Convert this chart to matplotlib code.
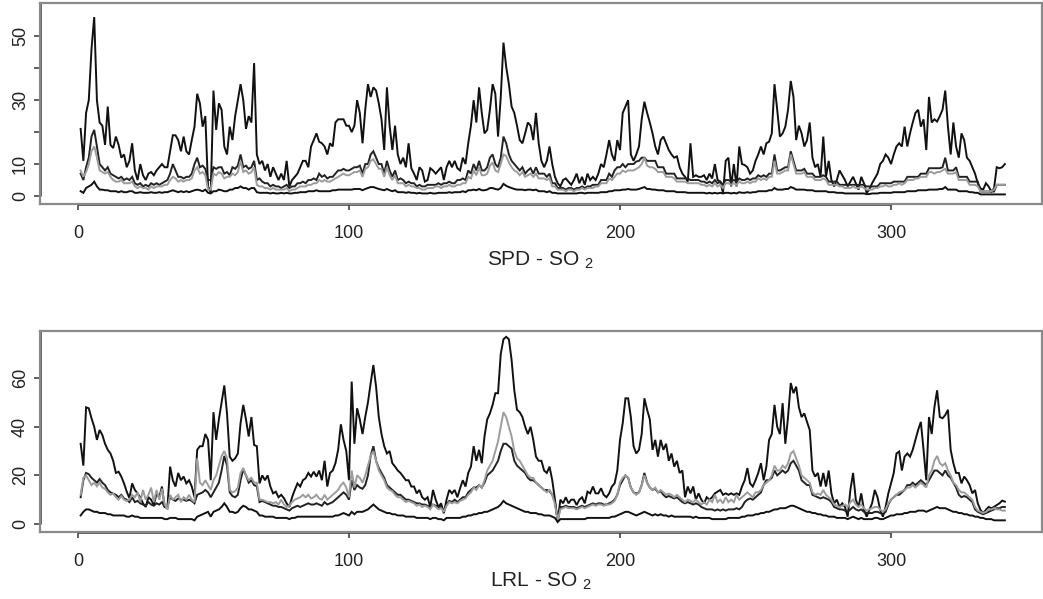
import numpy as np
import matplotlib
matplotlib.use("Agg")
import matplotlib.pyplot as plt

plt.rcParams["font.family"] = ["Liberation Sans", "DejaVu Sans"]
plt.rcParams["mathtext.fontset"] = "custom"
plt.rcParams["mathtext.rm"] = "Liberation Sans"
plt.rcParams["mathtext.it"] = "Liberation Sans"

# ---- SPD station, SO2 (four summary series per day) ----
spd_upper = [
    21, 11, 26, 30, 46, 56, 30, 23, 22, 16,
    28, 16, 15, 18.6, 16, 12, 13, 9, 11, 16.5,
    8, 5, 10, 6.5, 5, 7, 7.5, 6.5, 8, 9,
    10, 9, 9, 14, 19, 19, 17.5, 14, 18.6, 14,
    13, 17.5, 21.7, 32, 29, 21.7, 25, 3, 1, 33,
    20.7, 29, 27, 15.5, 13, 21.7, 17.5, 25, 30, 35,
    30, 21, 25, 23, 41.6, 13, 10, 11, 8, 10,
    6, 9, 7, 5, 7, 5, 11, 3, 5, 6,
    7, 9, 11, 11, 9, 15.5, 17.5, 19.6, 17, 16.5,
    15.5, 13, 16.5, 15.5, 23, 24, 24, 24, 22, 22,
    20, 22, 30, 26, 16.5, 27, 35, 31, 34, 33,
    29, 24, 14.4, 34, 22, 14.4, 22, 13, 10, 12,
    9, 16.5, 8.7, 7, 5, 9, 8, 4.5, 5, 8.7,
    8, 7, 8, 9, 5, 9, 11, 9, 11, 8.7,
    8, 12, 10, 16.5, 22, 30, 23, 34, 26, 19.6,
    20.7, 27, 35, 32, 18.6, 31, 48, 40.5, 35, 28,
    26, 22, 17.5, 16.5, 19.6, 23, 22, 17.5, 26, 16.5,
    11, 9, 11, 15.5, 10, 6, 4, 3, 5, 5.5,
    4.5, 3.5, 5, 7, 4, 6, 3.5, 7, 5, 6,
    5, 7, 10, 9, 13, 17.5, 13, 11, 17.5, 14.4,
    26, 28, 30, 13, 11, 13, 15.5, 24, 29.5, 26,
    23, 19.6, 15.5, 13, 17.5, 18.6, 16.5, 14.4, 13, 12,
    12.4, 9, 7, 6, 4.5, 16.5, 6, 6.5, 6, 6,
    6.5, 5, 7, 5.5, 10, 5, 4.5, 1, 11, 12,
    3, 10, 3, 15.5, 10, 9.7, 9, 7, 8, 11,
    13, 15.5, 13, 16.5, 17, 19.6, 35, 27, 18.6, 19.6,
    21.7, 27, 36, 31, 17.5, 22, 19.6, 15.5, 17.5, 23,
    12, 9, 10, 6, 18.6, 6, 11, 5, 3, 5,
    8, 6.5, 5, 3, 4.5, 6, 4, 2, 6, 4,
    1, 2, 4, 5.5, 7, 10, 11, 13, 12, 10,
    13, 15.5, 16.5, 15.5, 21.7, 15.5, 19.6, 23, 26, 27,
    21.7, 24, 14.4, 31, 23, 24, 23.3, 25, 27, 33,
    21.7, 13, 23, 15.5, 12, 19.6, 17.5, 12, 11, 9,
    7, 4, 2.4, 2, 4, 3, 1.4, 2.4, 9, 8.7, 9, 10,
]

spd_mid = [
    7, 5, 9, 12, 18.6, 20.7, 15.5, 10, 9, 8,
    9, 7, 6.5, 6, 5.5, 6, 5, 5.5, 5, 6,
    4, 3.5, 4, 3, 3.5, 3, 4, 3.5, 4, 3.5,
    4, 4.5, 5, 7, 10, 8, 6, 6, 5.5, 6,
    6, 7, 10, 12, 9, 9.5, 8.5, 5, 5, 9,
    8.5, 9, 9, 7, 7.5, 6.5, 9, 8.5, 9.5, 13,
    9, 9.5, 8.5, 9, 11, 5, 5.5, 4.5, 4, 4,
    3, 3.5, 3, 3, 2.5, 3, 3.5, 2.5, 3, 3,
    4, 4, 4.5, 4, 5, 5, 5.5, 5, 7, 6,
    6.5, 5.5, 6, 6, 7, 8, 8, 8.5, 8, 8,
    8.5, 9, 9, 9.5, 7, 10, 10, 13, 14, 12,
    10, 10, 7, 11, 8, 6, 8, 5, 5.5, 5,
    4, 4.5, 4, 4, 3, 3.5, 3, 3, 3.5, 3.5,
    3.5, 3.5, 4, 3.5, 4, 4, 4.5, 4, 4, 5,
    5, 5.5, 5, 8, 7, 10, 8, 11, 8, 8,
    9, 12, 13, 10, 9, 12, 18.6, 16.5, 13, 11,
    10, 9, 8, 9, 7, 8, 8.7, 7, 9, 7,
    7, 7, 6, 7, 4, 4, 2.5, 2.5, 2.5, 2,
    2.5, 2.5, 2, 2.5, 2.5, 3, 2.5, 3, 3, 3.5,
    3.5, 3.5, 5, 5, 5, 7, 6, 8, 9, 9,
    10, 9, 10, 10, 10, 10.8, 11, 12, 12, 11,
    11, 11, 11, 9, 9, 9, 7, 7, 7, 7,
    5.5, 5.5, 5.5, 5.5, 5.5, 5, 5, 5, 5, 4.5,
    4.5, 4, 4.5, 4, 5, 4, 4.5, 3.5, 5, 5,
    4.5, 5, 4.5, 5.5, 5, 5, 5.5, 5, 5.5, 5.5,
    6.5, 6, 6.5, 6, 7, 7, 13, 8, 8, 8.5,
    9, 9, 14, 11, 8, 8, 8, 8.5, 7, 7,
    7, 6, 6, 6, 6.5, 6, 4.5, 4.5, 4.5, 4.5,
    3.5, 3.5, 3.5, 3.5, 3.5, 3.5, 3.5, 3.5, 3.5, 3.5,
    3, 3, 3, 3, 3, 4, 4, 4, 4, 4,
    4.5, 4.5, 4.5, 4.5, 4.5, 6, 6, 6, 6, 6,
    7, 7, 7, 8.7, 8.7, 8.7, 8.7, 8.7, 9, 12,
    8, 8, 8, 9, 6, 6, 6, 6, 4.5, 4.5,
    4.5, 4.5, 1.4, 1.4, 1.4, 1.4, 1.4, 1.4, 3.5, 3.5, 3.5, 3.5,
]

spd_grey = [
    8, 6, 7.5, 10, 14, 15.5, 12, 8, 7.5, 7,
    7.5, 6, 5, 4.5, 4.5, 5, 4, 4, 4, 4.5,
    3, 2.5, 3, 2.5, 2.5, 2, 3, 2.5, 3, 3,
    3, 3.5, 3.5, 5, 6, 5.5, 4.5, 5, 4.5, 5,
    5, 5.5, 8, 9, 7, 7.5, 6.5, 2, 2, 7,
    6.5, 7.5, 7, 5.5, 6, 6, 7, 6.5, 7.5, 11,
    7.5, 8, 7, 7.5, 9, 3.5, 3, 3, 2.5, 2.5,
    2, 2.5, 2, 2, 2, 2, 2.5, 1.5, 2, 2,
    2.5, 3, 3, 3, 3.5, 3.5, 4, 4, 5, 4.5,
    5, 4.5, 4.5, 5, 5.5, 6, 6.5, 7, 6.5, 6.5,
    7, 7.5, 7.5, 8, 6, 8.5, 9, 11, 11.5, 10,
    8.5, 8.5, 6, 9, 6.5, 5, 6.5, 4, 4, 4,
    3, 3.5, 3, 3, 2.5, 2.5, 2, 2, 2.5, 2.5,
    2.5, 3, 3, 2.5, 3, 3, 3.5, 3, 3, 3.5,
    3.5, 4, 4, 6, 5.5, 8, 6.5, 9, 6.5, 6.5,
    7, 9.5, 10.5, 8, 7.5, 10, 13, 12.5, 10.5, 9,
    8, 7.5, 6.5, 7.5, 6, 6.5, 7, 6, 7, 5.5,
    5.5, 5.5, 5, 5.5, 3, 3, 2, 2, 2, 1.5,
    2, 2, 1.5, 2, 2, 2.5, 2, 2.5, 2.5, 2.5,
    3, 3, 4, 4, 4, 5.5, 5, 6, 7, 7,
    8, 7.5, 8, 8, 8, 8.5, 9, 10, 12, 9.5,
    9, 9, 8.5, 7.5, 7.5, 7.5, 6, 6, 6, 5.5,
    4.5, 4.5, 4.5, 4.5, 4, 4, 4, 4, 4, 3.5,
    3.5, 3, 3.5, 3, 4, 3, 3.5, 2.5, 4, 4,
    3.5, 4, 3.5, 4.5, 4, 4, 4.5, 4, 4.5, 4.5,
    5.5, 5, 5.5, 5, 6, 6, 11, 7, 7, 7.5,
    8, 8, 13, 10, 7, 7, 7, 7.5, 6, 6,
    6, 5, 5, 5, 5.5, 5, 3.5, 3.5, 3.5, 3.5,
    3, 3, 2.5, 2.5, 2.5, 3, 2.5, 2.5, 3, 2.5,
    2, 2, 2, 2.5, 2.5, 3, 3, 3.5, 3, 3,
    3.5, 3.5, 4, 3.5, 4, 5, 5, 5, 5.5, 5.5,
    6, 6, 6, 7.5, 7.5, 7, 7.5, 7.5, 8, 8.5,
    7, 7, 7, 7.5, 5, 5, 5, 5, 3.5, 3.5,
    3.5, 3, 1.5, 1.5, 1.5, 1.5, 1.5, 2, 3.5, 3.5, 3.5, 3.5,
]

spd_lower = [
    1.5, 1, 2.5, 3, 3.5, 4.5, 3, 2, 2, 1.8,
    1.8, 1.5, 1.5, 1.5, 1.2, 1.5, 1.2, 1.2, 1.5, 1.5,
    1, 1, 1.2, 1, 1, 1, 1.2, 1, 1, 1.2,
    1, 1.2, 1.2, 1.5, 1.8, 1.5, 1.2, 1.5, 1.2, 1.5,
    1.2, 1.5, 1.8, 2, 1.8, 1.5, 2, 1, 0.8, 1.5,
    1.5, 2, 1.8, 1.5, 1.5, 2, 2, 2.5, 2.5, 3,
    2.5, 2.5, 2, 2.5, 2.5, 1.2, 1, 1, 1, 1,
    0.8, 1, 0.8, 0.8, 1, 0.8, 1, 0.8, 0.8, 1,
    1, 1.2, 1.2, 1.2, 1.5, 1.5, 1.5, 1.8, 1.5, 1.5,
    1.5, 1.5, 1.5, 1.8, 1.8, 2, 2, 2, 2, 2,
    2, 2.2, 2.2, 2.2, 1.8, 2.2, 2.5, 2.8, 2.8, 2.5,
    2.2, 2, 1.8, 2.2, 1.8, 1.5, 1.8, 1.2, 1.2, 1.2,
    1, 1.2, 1, 1, 0.8, 1, 0.8, 0.8, 0.8, 1,
    0.8, 0.8, 1, 1, 1, 1, 1.2, 1, 1.2, 1.2,
    1.2, 1.5, 1.2, 1.8, 1.8, 2, 1.8, 2.2, 1.8, 1.8,
    2, 2.5, 2.5, 2.2, 2, 2.5, 3.8, 3.2, 2.8, 2.5,
    2.2, 2, 2, 2, 1.8, 2, 2, 1.8, 2, 1.5,
    1.5, 1.5, 1.2, 1.5, 1, 1, 0.8, 0.8, 0.8, 0.8,
    0.8, 0.8, 0.8, 0.8, 1, 1, 0.8, 1, 1, 1,
    1, 1, 1.2, 1.2, 1.2, 1.5, 1.5, 1.8, 1.8, 1.8,
    2, 2, 2.2, 2, 2, 2, 2.2, 2.5, 2.8, 2.2,
    2.2, 2, 2, 1.8, 1.8, 1.8, 1.5, 1.5, 1.5, 1.5,
    1.2, 1.2, 1.2, 1.2, 1, 1, 1, 1, 1, 1,
    1, 0.8, 1, 0.8, 1, 0.8, 1, 0.8, 1, 1,
    0.8, 1, 0.8, 1.2, 1, 1, 1.2, 1, 1.2, 1.2,
    1.5, 1.5, 1.5, 1.5, 1.8, 1.8, 2.5, 2, 2, 2,
    2.2, 2.2, 2.8, 2.5, 2, 2, 2, 2, 1.8, 1.8,
    1.8, 1.5, 1.5, 1.5, 1.5, 1.5, 1.2, 1.2, 1.2, 1,
    1, 1, 0.8, 0.8, 0.8, 0.8, 0.8, 0.8, 0.8, 0.8,
    0.6, 0.6, 0.8, 0.8, 0.8, 1, 1, 1, 1, 1,
    1.2, 1.2, 1.2, 1.2, 1.2, 1.5, 1.5, 1.5, 1.5, 1.8,
    1.8, 1.8, 1.8, 2, 2, 2, 2, 2.2, 2.2, 2.8,
    2, 2, 2, 2, 1.5, 1.5, 1.5, 1.5, 1.2, 1.2,
    1, 1, 0.5, 0.5, 0.5, 0.5, 0.5, 0.5, 0.5, 0.5, 0.5, 0.5,
]

# ---- LRL station, SO2 ----
lrl_upper = [
    33, 24, 48, 47.6, 43.5, 40, 34.6, 38.7, 36.6, 33,
    30.5, 29, 26, 21, 21.5, 19.5, 16.7, 13.3, 10.6, 16.7,
    14, 12.6, 11, 8.5, 7, 11, 10, 7.8, 12.6, 11,
    15.4, 7, 6.5, 23.6, 18, 15.4, 21, 18, 19.5, 16.7,
    18, 15.4, 11, 30.5, 32, 32, 37, 34.6, 18, 46,
    34.6, 43, 50, 57, 45.5, 27.7, 26, 27, 29, 41.5,
    49, 43, 36, 44, 32.5, 32, 16.7, 20, 18, 20,
    15.4, 12.6, 13.3, 11, 12, 10.6, 8.5, 7, 11, 14,
    16.7, 15.4, 18, 18.8, 21, 19.5, 21.5, 19.5, 22, 18,
    26, 15.4, 21, 22, 25, 30.5, 41, 34.6, 30, 18,
    58.6, 33, 47.6, 43, 37, 44, 50, 58, 65.4, 56.5,
    44, 37, 32, 29, 30, 25, 23.6, 22, 21, 19.5,
    18, 18, 15.4, 15.4, 12.6, 14, 11, 10, 11, 7,
    14, 10, 7, 8.5, 4.4, 10, 14, 12.6, 14, 11,
    14.7, 18, 15.4, 21, 23.6, 32, 26, 30.5, 25, 36,
    43, 45.5, 49, 53.8, 53.8, 70, 76, 77, 76, 67.5,
    55, 47, 46, 44, 40, 37, 40, 34.6, 27.7, 26,
    26, 22, 21, 23.6, 18, 10, 1, 10, 8.5, 11,
    8.5, 10, 10, 7.8, 10, 11, 8.5, 13.3, 12.6, 15.4,
    12.6, 12.6, 14.7, 12, 11, 12.6, 15.4, 16.7, 22, 34.6,
    41.5, 51.7, 51.7, 44, 32, 29, 30.5, 37, 51.7, 47,
    43, 30.5, 34.6, 27.7, 34.6, 30.5, 33, 26, 29, 23.6,
    26, 21, 22, 11, 15.4, 12.6, 15.4, 10, 12.6, 10,
    8.5, 11, 10, 11, 12.6, 13.3, 14, 12, 12.6, 12,
    12.6, 12, 12.6, 12, 15.4, 18, 23, 16.7, 15.4, 18,
    21, 25, 18, 23.6, 34.6, 37, 49, 40, 37, 49.7,
    33, 44, 58, 53.8, 56.5, 48, 44, 45.5, 42, 38.7,
    22, 19.5, 21, 15.4, 21, 15.4, 22, 12.6, 8.5, 10,
    7, 8.5, 7, 3, 14, 21, 10, 7, 12.6, 5.8,
    3, 5.8, 8.5, 14, 11, 5.8, 3, 7, 12.6, 16.7,
    21, 29, 29.8, 22, 27.7, 29, 27.7, 30.5, 34.6, 38.7,
    42, 30.5, 18, 44, 37, 48, 55, 44, 43.5, 44.8,
    47, 30.5, 25, 21, 21, 16.7, 19.5, 18, 16, 12.6,
    14, 8.5, 5.8, 4.4, 5.8, 7, 6.5, 7, 7.8, 8.5, 9.6, 9.2,
]

lrl_mid = [
    11, 18, 21, 20.5, 19, 18, 17, 18.5, 17, 16,
    14, 13, 12.5, 12, 11, 12, 10.5, 10, 9, 11,
    9, 9.5, 8.5, 8, 7.5, 9, 8, 7.5, 8.5, 8,
    9, 7, 7, 11, 10, 9.5, 10.5, 10, 10, 9.5,
    10, 9.5, 8.5, 12, 12.5, 13, 14, 13, 11, 13,
    15, 17, 22, 28, 24, 13, 11.5, 11, 12, 18,
    22.5, 20, 17, 18, 16, 15.5, 9, 9.5, 9, 8.5,
    8, 7.5, 7.5, 7, 7, 6.5, 6, 5.5, 6.5, 7,
    7.5, 7, 7.5, 8, 8.5, 8, 8, 8.5, 8, 7.5,
    9, 8, 8.5, 9, 10, 11, 12, 13, 12, 10,
    18, 14, 16, 15, 14.5, 16, 20, 28, 32, 26,
    23, 21, 19, 16, 15, 14, 13, 12, 12, 11,
    10, 10, 9.5, 9, 8.5, 8.5, 8, 8, 7.5, 7,
    8, 7.5, 7, 7, 5, 8, 9.5, 9, 10, 9,
    10, 11, 11, 13, 14, 15, 15, 16, 15, 17,
    20, 21, 22, 24, 26, 30, 33, 33, 32, 31,
    26, 24, 23, 22, 21, 19, 18, 18, 17, 16,
    15, 14, 14, 13.5, 12, 9, 1.5, 7, 7, 7.5,
    7, 7, 7, 6.5, 7, 7.5, 7, 7.5, 8, 8.5,
    8, 8.5, 8.5, 8, 8, 8.5, 9, 10, 12, 16,
    18, 20, 19, 15, 13, 12.5, 13, 16, 21, 17,
    15, 14, 14.5, 13, 13.5, 12, 11, 11.5, 11, 10.5,
    11, 10, 9, 8.5, 9, 8.5, 8, 8.5, 8, 7,
    6.5, 6, 6, 6, 5.5, 6, 5.5, 6, 5.5, 6,
    6, 6, 6.5, 6, 7, 9, 10, 10.5, 10, 11,
    12, 13, 16, 18, 18, 19, 22, 20, 21, 22,
    21, 22, 25, 26, 24, 22, 18, 17, 16, 16,
    12, 11.5, 11, 10.5, 11, 10.5, 10, 9, 7, 6.5,
    6, 6, 5.5, 5, 6, 7, 6, 5.5, 6, 5,
    4.5, 4.5, 4.5, 5, 5, 4.5, 4, 5, 8, 10,
    11, 12, 12, 13, 14, 16, 16, 17, 16, 17,
    18, 17, 16, 18, 20, 22, 22, 21, 20, 22,
    20, 19, 17, 15, 12, 11, 11.5, 11, 10, 9,
    6, 5, 4.5, 4, 4.5, 5, 5.5, 6, 6.5, 6.5, 7, 7,
]

lrl_grey = [
    12, 19, 20, 18, 16, 17, 15.5, 17, 15, 14.5,
    13, 12, 12.5, 11, 10, 11.5, 10, 9.5, 10, 12,
    11, 13, 9, 14, 10, 12, 15, 9, 14, 10,
    14.5, 8, 6, 12, 10, 11, 12, 9, 11, 10,
    12, 10, 9, 27, 17, 16, 18, 16, 14, 18,
    20, 24, 28, 30, 27, 14, 13, 13.5, 15, 21,
    23, 20, 18, 19, 17, 17, 10, 10, 9.5, 9,
    9, 8.5, 9, 8, 10, 8, 7, 7.5, 9, 10,
    10.5, 11, 12, 11, 12, 10.5, 11, 12, 10.5, 10,
    12, 10, 11, 12, 13, 14, 16, 17, 15, 11,
    22, 15, 20, 19, 17, 20, 24, 28, 30, 26,
    22, 20, 18, 15, 14, 13.5, 12, 11, 11, 10,
    9, 9.5, 9, 8.5, 7.5, 8, 7, 7.5, 7, 6,
    8, 7, 6, 6.5, 5, 7.5, 9, 8.5, 9, 8.5,
    9.5, 10, 10.5, 12, 13, 15, 14, 16, 15, 18,
    22, 24, 26, 30, 34, 40, 46, 44, 40, 36,
    30, 27, 26, 24, 22, 20, 19, 19, 17, 16,
    15, 14, 13, 14, 12, 8, 1.5, 6, 6.5, 7,
    6.5, 6.5, 6.5, 6, 6.5, 7, 6.5, 7, 7.5, 8,
    7.5, 8, 8, 7.5, 8, 8, 8.5, 9.5, 12, 17,
    19, 20, 19, 15, 13, 12, 13, 16, 20, 17,
    15, 14, 15, 13, 14, 13, 12, 12.5, 12, 11,
    12, 11, 10, 9, 10, 9.5, 9, 10, 9, 8,
    9, 8, 10, 9, 12, 9, 10, 8.5, 11, 9,
    10, 9, 12, 10, 11, 12, 13, 12, 11, 13,
    13, 14, 16, 17, 18, 20, 24, 22, 22, 24,
    23, 25, 29, 30, 27, 24, 20, 19, 18, 17,
    13, 12, 12.5, 12, 14, 12, 11, 10, 8, 7.5,
    7, 7.5, 8, 7, 9, 10, 8, 7, 8, 6.5,
    5.5, 6, 6.5, 7, 7, 6, 5, 6, 8.5, 10,
    11, 12, 13, 13.5, 14, 15, 15, 16, 15, 16,
    17, 16, 15, 20, 22, 26, 28, 25, 24, 25,
    22, 20, 17, 16, 14, 13, 13, 12, 11, 10,
    7, 5.5, 5, 4.5, 5, 6, 6, 6.5, 6, 6, 5.5, 5.5,
]

lrl_lower = [
    3.5, 5, 6, 6, 5.5, 5, 5, 4.5, 4.5, 4.5,
    4, 4, 3.5, 3.5, 3.5, 3.5, 3.5, 3, 3, 3.5,
    3, 3, 2.5, 2.5, 2.5, 2.5, 2.5, 2.5, 2.5, 2.5,
    2.5, 2, 2, 2.5, 2.5, 2.5, 2, 2, 2, 2,
    2, 2, 1.5, 3, 3.5, 4, 4.5, 5, 3, 5,
    5.5, 6, 7, 8.5, 7, 5, 5, 4.5, 5, 6.5,
    7.5, 7, 6, 6, 5.5, 5, 3.5, 3.5, 3, 3,
    3, 3, 2.5, 2.5, 2.5, 2.5, 2.5, 2, 2.5, 2.5,
    3, 3, 3, 3, 3, 3, 3, 3, 3, 3,
    3, 3, 3, 3, 3.5, 3.5, 4, 4.5, 4, 3.5,
    5, 4, 5, 5, 5, 5.5, 6, 7, 8, 7,
    6, 5.5, 5, 4.5, 4.5, 4, 4, 3.5, 3.5, 3.5,
    3, 3, 3, 3, 2.5, 2.5, 2.5, 2.5, 2.5, 2,
    2.5, 2.5, 2, 2, 1.5, 2.5, 2.5, 2.5, 2.5, 2.5,
    2.5, 3, 3, 3.5, 3.5, 4, 4, 4.5, 4.5, 5,
    5, 5.5, 6, 6.5, 7, 8, 9.5, 8.5, 8, 7.5,
    7, 6.5, 6, 5.5, 5, 5, 4.5, 4.5, 4.5, 4,
    4, 3.5, 3.5, 3.5, 3, 2.5, 0.8, 2, 2, 2,
    2, 2, 2, 2, 2, 2, 2, 2.5, 2.5, 2.5,
    2.5, 2.5, 2.5, 2.5, 2.5, 2.5, 3, 3, 3.5, 4,
    4.5, 5, 5, 4.5, 4, 3.5, 4, 4.5, 5, 4.5,
    4, 3.5, 4, 3.5, 4, 3.5, 3.5, 3, 3.5, 3,
    3, 3, 3, 3, 3, 3, 2.5, 3, 2.5, 2.5,
    2.5, 2.5, 2.5, 2, 2, 2, 2, 2, 2, 2.5,
    2.5, 2.5, 2.5, 2.5, 3, 3, 3.5, 3.5, 3.5, 4,
    4, 4.5, 4.5, 5, 5, 5.5, 6, 6, 6.5, 6.5,
    6.5, 7, 7.5, 7.5, 7, 6.5, 6, 5.5, 5, 5,
    4.5, 4.5, 4, 4, 3.5, 3.5, 3, 3, 3, 2.5,
    2.5, 2.5, 2.5, 2, 2.5, 3, 2.5, 2, 2.5, 2,
    2, 2, 2, 2.5, 2.5, 2, 2, 2.5, 3, 3.5,
    3.5, 4, 4, 4, 4.5, 4.5, 5, 5, 5, 5.5,
    5.5, 5.5, 5, 5.5, 6, 6.5, 7, 6.5, 6.5, 6.5,
    6, 5.5, 5, 5, 4.5, 4.5, 4, 4, 3.5, 3.5,
    3, 3, 2.5, 2.5, 2, 2, 2, 1.5, 1.5, 1.5, 1.5, 1.5,
]

x_ticks = [0, 100, 200, 300]
spd_yticks = [0, 10, 20, 30, 40, 50]
spd_ylabels = ["0", "10", "", "30", "", "50"]
lrl_yticks = [0, 20, 40, 60]
lrl_ylabels = ["0", "20", "40", "60"]

W, H = 1043, 599
fig = plt.figure(figsize=(W / 100, H / 100), dpi=100)
fig.patch.set_facecolor("white")


def panel(top_px, bottom_px):
    return fig.add_axes([40 / W, 1 - bottom_px / H, (1042 - 40) / W,
                         (bottom_px - top_px) / H])


ax_top = panel(3, 204)
ax_bot = panel(331, 532)

line_colors = ["#111111", "#222222", "#9c9c9c", "#111111"]


def draw(ax, series, ylim, yticks, ylabels):
    n = len(series[0])
    days = np.arange(1, n + 1)
    for vals, col in zip(series, line_colors):
        ax.plot(days, vals, color=col, lw=1.4, solid_joinstyle="miter")
    ax.set_xlim(-14, 355.7)
    ax.set_ylim(*ylim)
    ax.set_xticks(x_ticks)
    ax.set_xticklabels([str(t) for t in x_ticks])
    ax.set_yticks(yticks)
    ax.set_yticklabels(ylabels, rotation=90, va="center")
    for sp in ax.spines.values():
        sp.set_color("#8a8a8a")
        sp.set_linewidth(1.6)
    ax.tick_params(axis="both", direction="out", length=4, width=1.1,
                   color="#333333", labelsize=13, labelcolor="#222222")
    ax.tick_params(axis="x", pad=11)
    ax.tick_params(axis="y", pad=4)
    # R-style axis lines spanning the tick range
    ax.plot([x_ticks[0], x_ticks[-1]], [0, 0], transform=ax.get_xaxis_transform(),
            color="#333333", lw=1.8, clip_on=False, solid_capstyle="butt")
    ax.plot([0, 0], [yticks[0], ylim[1]], transform=ax.get_yaxis_transform(),
            color="#333333", lw=1.8, clip_on=False, solid_capstyle="butt")


draw(ax_top, [spd_upper, spd_mid, spd_grey, spd_lower], (-2.5, 60.4),
     spd_yticks, spd_ylabels)
draw(ax_bot, [lrl_upper, lrl_mid, lrl_grey, lrl_lower], (-3.3, 79.4),
     lrl_yticks, lrl_ylabels)

fig.text(541 / W, 1 - 266 / H, r"SPD - SO $_{\mathrm{2}}$", ha="center",
         va="baseline", fontsize=15, color="#222222")
fig.text(541 / W, 1 - 587 / H, r"LRL - SO $_{\mathrm{2}}$", ha="center",
         va="baseline", fontsize=15, color="#222222")

fig.savefig("out.png", dpi=100, facecolor="white")
